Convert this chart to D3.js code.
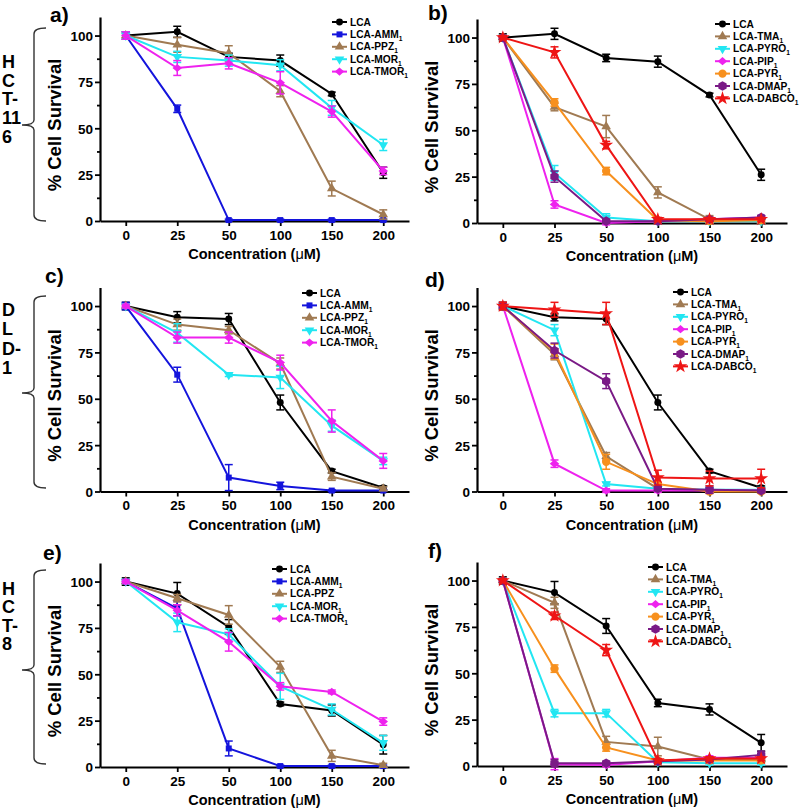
<!DOCTYPE html>
<html>
<head>
<meta charset="utf-8">
<script src="https://cdn.jsdelivr.net/npm/d3@7"></script>
<style>
  body { margin: 0; background: #fff; }
  svg { display: block; }
  text { font-family: Arial, 'Liberation Sans', sans-serif; font-weight: bold; fill: #000; }
</style>
</head>
<body>
<svg id="chart" width="800" height="809"></svg>
<script>
// x categories (concentration, uM) and y ticks
const conc = ['0', '25', '50', '100', '150', '200'];
const yTicks = [0, 25, 50, 75, 100];
const yMinor = [12.5, 37.5, 62.5, 87.5];

// a) HCT-116, first compound set
const aSeries = ['LCA', 'LCA-AMM_1', 'LCA-PPZ_1', 'LCA-MOR_1', 'LCA-TMOR_1'];
const aMeans = [
  [100, 102, 88.5, 86.5, 68.5, 26],
  [100, 60.5, 0.5, 0.5, 0.5, 0.5],
  [100, 95, 90.5, 70, 17.5, 3.5],
  [100, 88.5, 86.5, 84, 61, 41],
  [100, 82.5, 85, 74.5, 59, 27]
];
const aErrors = [
  [2, 3, 2, 3, 1, 3],
  [2, 2, 0.5, 0.5, 0.5, 0.5],
  [1, 4, 4, 3, 4, 2.5],
  [2, 3, 3, 3, 4, 3],
  [2, 4, 3, 6, 3, 2]
];

// b) HCT-116, second compound set
const bSeries = ['LCA', 'LCA-TMA_1', 'LCA-PYRO_1', 'LCA-PIP_1', 'LCA-PYR_1', 'LCA-DMAP_1', 'LCA-DABCO_1'];
const bMeans = [
  [100, 102, 89, 87, 69, 26],
  [100, 62.5, 52, 16.5, 2, 1],
  [100, 27, 3, 1, 1, 1],
  [100, 10, 0, 1, 2, 3],
  [100, 65, 28, 1.5, 1, 1.5],
  [100, 25, 1, 1, 2, 3],
  [100, 92, 42, 2, 2, 2]
];
const bErrors = [
  [2, 3, 2, 3, 1, 3],
  [1, 2, 6, 3, 2, 1],
  [1, 4, 2, 1, 1, 1],
  [1, 2, 1, 1, 1, 1],
  [1, 2, 2, 1, 1, 1],
  [1, 3, 1, 1, 1, 1],
  [1, 3, 2, 1, 1, 1]
];

// c) DLD-1, first set
const cSeries = ['LCA', 'LCA-AMM_1', 'LCA-PPZ_1', 'LCA-MOR_1', 'LCA-TMOR_1'];
const cMeans = [
  [100, 94, 93, 48, 11, 2],
  [100, 63, 7.5, 3, 0.5, 0.5],
  [100, 90, 87, 69, 8, 1.5],
  [100, 85.5, 63, 61.5, 35.5, 16.5],
  [100, 83, 83, 69.5, 38, 16.5]
];
const cErrors = [
  [2, 3, 3, 4, 1, 1],
  [2, 4, 7, 2, 0.5, 0.5],
  [1, 3, 2, 3, 2, 1],
  [1, 5, 1, 6, 3, 2],
  [1, 3, 3, 4, 6, 4]
];

// d) DLD-1, second set
const dSeries = ['LCA', 'LCA-TMA_1', 'LCA-PYRO_1', 'LCA-PIP_1', 'LCA-PYR_1', 'LCA-DMAP_1', 'LCA-DABCO_1'];
const dMeans = [
  [100, 94, 93, 48, 11, 2],
  [100, 74, 19, 1.5, 0.5, 0.5],
  [100, 87, 4, 1.5, 1, 1],
  [100, 15, 0.5, 0.5, 0.5, 0.5],
  [100, 75.5, 16, 4, 0, 0],
  [100, 76, 59.5, 1.5, 1, 0.5],
  [100, 98, 96, 7.5, 7, 7]
];
const dErrors = [
  [2, 2, 3, 4, 1, 1],
  [1, 3, 2, 1, 1, 1],
  [1, 3, 1, 1, 1, 1],
  [1, 2, 1, 1, 1, 1],
  [2, 4, 4, 1, 1, 1],
  [2, 4, 4, 1, 2, 1],
  [2, 4, 6, 4, 4, 5]
];

// e) HCT-8, first set
const eSeries = ['LCA', 'LCA-AMM_1', 'LCA-PPZ', 'LCA-MOR_1', 'LCA-TMOR_1'];
const eMeans = [
  [100, 93.5, 75.5, 34, 30.5, 12],
  [100, 85.5, 10, 0.5, 0.5, 0.5],
  [100, 91, 82, 54, 6, 1],
  [100, 78, 71.5, 43.5, 31, 13],
  [100, 84.5, 67.5, 43.5, 40.5, 24.5]
];
const eErrors = [
  [2, 6, 4, 1, 3, 5],
  [1, 4, 4, 0.5, 0.5, 0.5],
  [1, 2, 5, 3, 3, 1],
  [1, 5, 3, 7, 3, 4],
  [1, 3, 5, 2, 1, 2]
];

// f) HCT-8, second set
const fSeries = ['LCA', 'LCA-TMA_1', 'LCA-PYRO_1', 'LCA-PIP_1', 'LCA-PYR_1', 'LCA-DMAP_1', 'LCA-DABCO_1'];
const fMeans = [
  [100, 93.5, 75.5, 34, 30.5, 12.5],
  [100, 88, 13, 10.5, 3.5, 3.5],
  [100, 28.5, 28.5, 2, 1.5, 1.5],
  [100, 1, 0.5, 2.5, 4.5, 4.5],
  [100, 52.5, 10, 3, 3, 3],
  [100, 1.5, 1.5, 2.5, 3.5, 6],
  [100, 81, 62.5, 3, 4, 4]
];
const fErrors = [
  [2, 6, 4, 2, 3, 4.5],
  [1, 3, 3, 5, 1, 1],
  [1, 2, 2, 1, 1, 1],
  [1, 3, 1, 1, 1, 1],
  [1, 2, 2, 1, 1, 1],
  [1, 2, 1, 1, 1, 2],
  [1, 2, 3, 1, 1, 1]
];

// cell line brackets
const cellLines = [['H', 'C', 'T-', '11', '6'], ['D', 'L', 'D-', '1'], ['H', 'C', 'T-', '8']];

// custom marker shapes
const hexagon = {
  draw(ctx, size) {
    const r = Math.sqrt(size / (1.5 * Math.sqrt(3)));
    for (let i = 0; i < 6; i++) {
      const a = Math.PI / 3 * i + Math.PI / 6;
      i ? ctx.lineTo(r * Math.cos(a), r * Math.sin(a)) : ctx.moveTo(r * Math.cos(a), r * Math.sin(a));
    }
    ctx.closePath();
  }
};
const diamond = {
  draw(ctx, size) {
    const r = Math.sqrt(size / 2);
    ctx.moveTo(0, -r); ctx.lineTo(r * 1.15, 0); ctx.lineTo(0, r); ctx.lineTo(-r * 1.15, 0); ctx.closePath();
  }
};
const triDown = {
  draw(ctx, size) {
    const s = Math.sqrt(size * 4 / Math.sqrt(3)), h = s * Math.sqrt(3) / 2;
    ctx.moveTo(-s / 2, -h / 3); ctx.lineTo(s / 2, -h / 3); ctx.lineTo(0, 2 * h / 3); ctx.closePath();
  }
};

const styles = {
  'LCA':   { color: '#000000', type: d3.symbolCircle, size: 38 },
  'AMM':   { color: '#1414dc', type: d3.symbolSquare, size: 36 },
  'PPZ':   { color: '#a07a52', type: d3.symbolTriangle, size: 40 },
  'TMA':   { color: '#a07a52', type: d3.symbolTriangle, size: 40 },
  'MOR':   { color: '#22e6f2', type: triDown, size: 40 },
  'PYRO':  { color: '#22e6f2', type: triDown, size: 40 },
  'TMOR':  { color: '#ee22ee', type: diamond, size: 34 },
  'PIP':   { color: '#ee22ee', type: diamond, size: 34 },
  'PYR':   { color: '#f7901e', type: d3.symbolCircle, size: 55 },
  'DMAP':  { color: '#7a1a86', type: hexagon, size: 60 },
  'DABCO': { color: '#ee1515', type: d3.symbolStar, size: 60 }
};
const styleOf = name => {
  const key = name === 'LCA' ? 'LCA' : name.replace('LCA-', '').replace('_1', '');
  return styles[key];
};

const svg = d3.select('#chart');

const panels = [
  { tag: 'a)', series: aSeries, means: aMeans, errors: aErrors, x0: 100, x1: 409, y0: 221, lx: 332, ly: 22, tagX: 50, tagY: 22 },
  { tag: 'b)', series: bSeries, means: bMeans, errors: bErrors, x0: 477, x1: 787, y0: 223, lx: 715, ly: 24, tagX: 428, tagY: 20 },
  { tag: 'c)', series: cSeries, means: cMeans, errors: cErrors, x0: 100, x1: 409, y0: 491.5, lx: 302, ly: 293, tagX: 45, tagY: 283 },
  { tag: 'd)', series: dSeries, means: dMeans, errors: dErrors, x0: 477, x1: 787, y0: 491.5, lx: 673, ly: 292, tagX: 425, tagY: 287 },
  { tag: 'e)', series: eSeries, means: eMeans, errors: eErrors, x0: 100, x1: 409, y0: 767, lx: 272, ly: 569, tagX: 43, tagY: 560 },
  { tag: 'f)', series: fSeries, means: fMeans, errors: fErrors, x0: 477, x1: 787, y0: 766, lx: 648, ly: 567, tagX: 428, tagY: 558 }
];

function addLabel(sel, label, fontSize) {
  const parts = label.split('_');
  sel.text(parts[0]);
  if (parts[1]) {
    sel.append('tspan').attr('dy', 3).attr('font-size', fontSize * 0.65).text(parts[1]);
  }
}

panels.forEach(p => {
  const x = d3.scalePoint().domain(conc).range([p.x0, p.x1]).padding(0.5);
  const y = d3.scaleLinear().domain([0, 110]).range([p.y0, p.y0 - 204]);
  const g = svg.append('g');

  // axes
  const yAxis = g.append('g')
    .attr('transform', `translate(${p.x0},0)`)
    .call(d3.axisLeft(y).tickValues(yTicks).tickSize(5).tickSizeOuter(0).tickPadding(2));
  g.append('g')
    .attr('transform', `translate(${p.x0},0)`)
    .call(d3.axisLeft(y).tickValues(yMinor).tickSize(3).tickFormat('').tickSizeOuter(0))
    .select('.domain').remove();
  g.append('g')
    .attr('transform', `translate(0,${p.y0})`)
    .call(d3.axisBottom(x).tickSize(5).tickSizeOuter(0).tickPadding(4));
  g.selectAll('.domain').attr('stroke-width', 2.2).attr('stroke', '#000');
  g.selectAll('.tick line').attr('stroke-width', 1.8).attr('stroke', '#000');
  g.selectAll('.tick text')
    .attr('font-size', 13.5).attr('font-weight', 'bold')
    .attr('font-family', "Arial, 'Liberation Sans', sans-serif").attr('fill', '#000');
  yAxis.selectAll('.tick text').attr('dy', '0.36em');

  // axis titles
  g.append('text')
    .attr('transform', `translate(${p.x0 - 39},${p.y0 - 96}) rotate(-90)`)
    .attr('text-anchor', 'middle').attr('font-size', 18.5)
    .text('% Cell Survival');
  const xt = g.append('text')
    .attr('x', (p.x0 + p.x1) / 2).attr('y', p.y0 + 38)
    .attr('text-anchor', 'middle').attr('font-size', 14.5)
    .text('Concentration (');
  xt.append('tspan').attr('font-weight', 'normal').text('\u03bc');
  xt.append('tspan').text('M)');

  // panel tag
  g.append('text').attr('x', p.tagX).attr('y', p.tagY).attr('font-size', 21).text(p.tag);

  // series
  p.series.forEach((name, si) => {
    const st = styleOf(name);
    const pts = conc.map((c, i) => ({ c, v: p.means[si][i], e: p.errors[si][i] }));
    const sg = g.append('g');
    sg.append('path').datum(pts)
      .attr('fill', 'none').attr('stroke', st.color).attr('stroke-width', 2)
      .attr('d', d3.line().x(d => x(d.c)).y(d => y(d.v)));
    const eb = sg.selectAll('.eb').data(pts).enter().append('g')
      .attr('stroke', st.color).attr('stroke-width', 1.5);
    eb.append('line')
      .attr('x1', d => x(d.c)).attr('x2', d => x(d.c))
      .attr('y1', d => y(d.v - d.e)).attr('y2', d => y(d.v + d.e));
    eb.append('line')
      .attr('x1', d => x(d.c) - 4).attr('x2', d => x(d.c) + 4)
      .attr('y1', d => y(d.v + d.e)).attr('y2', d => y(d.v + d.e));
    eb.append('line')
      .attr('x1', d => x(d.c) - 4).attr('x2', d => x(d.c) + 4)
      .attr('y1', d => y(d.v - d.e)).attr('y2', d => y(d.v - d.e));
    sg.selectAll('.mk').data(pts).enter().append('path')
      .attr('transform', d => `translate(${x(d.c)},${y(d.v)})`)
      .attr('fill', st.color)
      .attr('d', d3.symbol().type(st.type).size(st.size));

    // legend row
    const ly = p.ly + si * 12.4;
    g.append('line').attr('x1', p.lx).attr('x2', p.lx + 15).attr('y1', ly).attr('y2', ly)
      .attr('stroke', st.color).attr('stroke-width', 2);
    g.append('path').attr('transform', `translate(${p.lx + 7.5},${ly})`)
      .attr('fill', st.color).attr('d', d3.symbol().type(st.type).size(st.size));
    const lt = g.append('text').attr('x', p.lx + 18).attr('y', ly + 3.6).attr('font-size', 10.2);
    addLabel(lt, name, 10.2);
  });
});

// cell line brackets on the left
const brackets = [
  { top: 28, bottom: 221, mid: 125, base: 68, step: 18.7 },
  { top: 296, bottom: 488, mid: 393, base: 316, step: 19.3 },
  { top: 570, bottom: 764, mid: 670, base: 595, step: 18.4 }
];
brackets.forEach((b, i) => {
  const path = d3.path();
  path.moveTo(46, b.top);
  path.quadraticCurveTo(34, b.top, 34, b.top + 6);
  path.lineTo(34, b.mid - 5);
  path.quadraticCurveTo(34, b.mid, 22, b.mid);
  path.quadraticCurveTo(34, b.mid, 34, b.mid + 5);
  path.lineTo(34, b.bottom - 6);
  path.quadraticCurveTo(34, b.bottom, 46, b.bottom);
  svg.append('path').attr('d', path.toString())
    .attr('fill', 'none').attr('stroke', '#333').attr('stroke-width', 1.4);
  cellLines[i].forEach((t, j) => {
    svg.append('text').attr('x', 2).attr('y', b.base + j * b.step).attr('font-size', 18).text(t);
  });
});
</script>
</body>
</html>
